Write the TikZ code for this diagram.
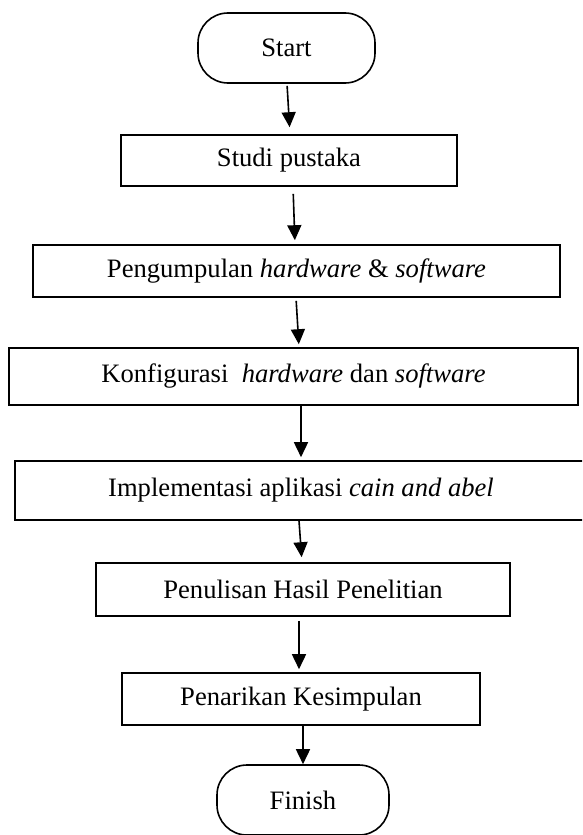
\documentclass[tikz,border=0pt]{standalone}
\usepackage{fontspec}
\setmainfont{Liberation Serif}
\usetikzlibrary{arrows.meta}
\begin{document}
\begin{tikzpicture}[x=1pt,y=-1pt,
  every node/.style={font=\fontsize{26.6}{30}\selectfont, inner sep=0pt},
  procbox/.style={draw, line width=1.6pt},
  termbox/.style={draw, line width=1.6pt, rounded corners=30pt},
  flow/.style={line width=1.6pt, -{Triangle[width=14pt,length=15pt]}}
]
\useasboundingbox (0,0) rectangle (582,835);
\clip (0,0) rectangle (582,835);

\node[termbox, minimum width=177pt, minimum height=70pt] (start) at (286.5,48) {Start};
\node[procbox, minimum width=336pt, minimum height=51pt] (studi) at (289,160.5) {Studi pustaka};
\node[procbox, minimum width=527pt, minimum height=52pt] (peng) at (296.5,271) {Pengumpulan \textit{hardware} \& \textit{software}};
\node[procbox, minimum width=569pt, minimum height=57pt] (konf) at (293.5,376.5) {Konfigurasi\ \ \textit{hardware} dan \textit{software}};
\node[procbox, minimum width=572pt, minimum height=59pt] (impl) at (301,490.5) {Implementasi aplikasi \textit{cain and abel}};
\node[procbox, minimum width=414pt, minimum height=53pt] (penul) at (303,589.5) {Penulisan Hasil Penelitian};
\node[procbox, minimum width=358pt, minimum height=52pt] (penar) at (301,699) {Penarikan Kesimpulan};
\node[termbox, minimum width=172pt, minimum height=70pt] (finish) at (303,800) {Finish};

\draw[flow, shorten <=2pt, shorten >=7pt] ([xshift=0.5pt]start.south) -- ([xshift=1pt]studi.north);
\draw[flow, shorten <=7pt, shorten >=4pt] ([xshift=4pt]studi.south) -- ([xshift=-1.5pt]peng.north);
\draw[flow, shorten <=3pt, shorten >=3pt] ([xshift=-0.5pt]peng.south) -- ([xshift=5.5pt]konf.north);
\draw[flow, shorten >=3pt] ([xshift=7.5pt]konf.south) -- (impl.north);
\draw[flow, shorten >=5pt] ([xshift=-2pt]impl.south) -- ([xshift=-1pt]penul.north);
\draw[flow, shorten <=4pt, shorten >=3pt] ([xshift=-4pt]penul.south) -- ([xshift=-2pt]penar.north);
\draw[flow] ([xshift=2pt]penar.south) -- (finish.north);
\end{tikzpicture}
\end{document}
